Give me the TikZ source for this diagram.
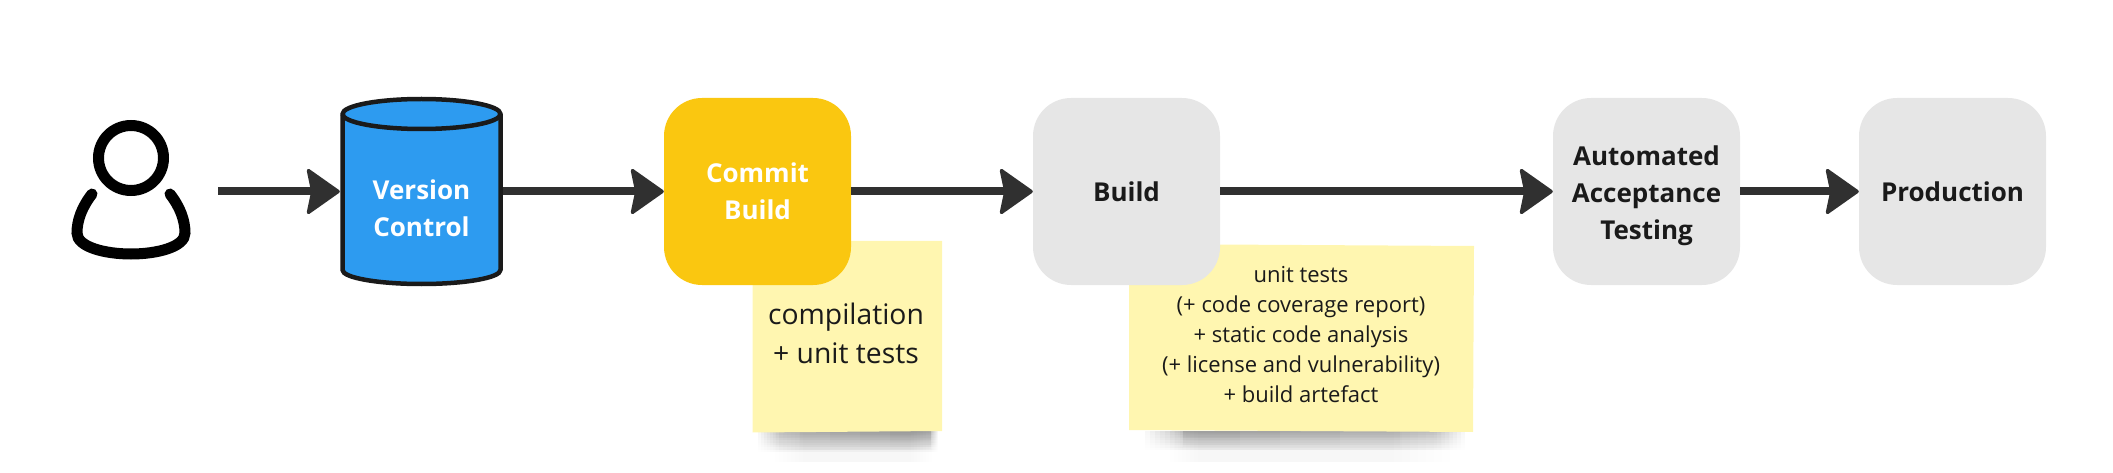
\documentclass[tikz,border=0pt]{standalone}
\usepackage{fontspec}
\setmainfont{Open Sans}
\usetikzlibrary{arrows.meta,fadings}
\definecolor{inkdark}{HTML}{303030}
\definecolor{boxgrey}{HTML}{E6E6E6}
\definecolor{boxyellow}{HTML}{FAC710}
\definecolor{vcblue}{HTML}{2D9BF0}
\definecolor{notefill}{HTML}{FFF6B0}
\definecolor{txtdark}{HTML}{1A1A1A}
\newcommand{\fsz}[2]{\fontsize{#1pt}{#2pt}\selectfont}
\newcommand{\softshadow}[5]{% xl xr ytop height opacity
  \fill[black,opacity=#5,path fading=south] (#1,#3) rectangle (#2,{#3+#4});
}
\tikzset{
  stage/.style={rectangle,rounded corners=38pt,minimum width=187pt,minimum height=187pt,inner sep=0pt,align=center,font=\fsz{26}{37}\bfseries,text=txtdark},
  flow/.style={draw=inkdark,line width=8pt,-{Stealth[length=35pt,width=49pt,inset=5pt,line width=3.5pt,round]}},
  notetext/.style={align=center,text=txtdark,inner sep=0pt},
  figure/.style={draw=black,line width=11pt,line cap=round,fill=none}
}
\begin{document}
\begin{tikzpicture}[x=1pt,y=-1pt]
\useasboundingbox (0,0) rectangle (2113,473);
% person
\draw[figure] (131,158) circle (32.5pt);
\draw[figure] (92,194) .. controls (82,207) and (77,220) .. (77,233)
  .. controls (77,247) and (105,254) .. (131,254)
  .. controls (157,254) and (185,247) .. (185,233)
  .. controls (185,220) and (180,207) .. (170,194);
\node[minimum width=120pt,minimum height=170pt,inner sep=0pt] (user) at (131,176) {};
\coordinate (userout) at (218,191.5);
% cylinder
\fill[vcblue,draw=txtdark,line width=4.5pt,line join=round]
  (342.5,114) -- (342.5,270) arc[x radius=79,y radius=14,start angle=180,end angle=0]
  -- (500.5,114) arc[x radius=79,y radius=15,start angle=0,end angle=-180] -- cycle;
\draw[txtdark,line width=4.5pt] (342.5,114) arc[x radius=79,y radius=15,start angle=180,end angle=0];
\node[minimum width=163pt,minimum height=155pt,inner sep=0pt,align=center,font=\fsz{26}{37}\bfseries,text=white] (vc) at (421.5,208) {Version\\Control};
% note shadows
\foreach \j in {0,...,7}{
  \softshadow{\j*3+758}{938-\j*1}{431}{22}{0.035}
  \softshadow{\j*4+775}{932-\j*3}{431}{36}{0.012}
}
\foreach \b in {800,830,860,890}{\softshadow{\b}{931}{431}{18}{0.035}}
\foreach \j in {0,...,7}{
  \softshadow{\j*5+1145}{1465-\j*4}{431}{20}{0.03}
  \softshadow{\j*4+1170}{1450-\j*8}{431}{36}{0.01}
}
\foreach \b in {1400,1340,1280,1240}{\softshadow{1183}{\b}{431}{16}{0.03}}
% notes
\fill[notefill] (752.5,241) -- (942,241) -- (942,431) -- (752.5,432.5) -- cycle;
\fill[notefill] (1129,244) -- (1474,246) -- (1473,432) -- (1129,430) -- cycle;
\node[notetext,font=\fsz{28.3}{39}] (notea) at (846,333.5) {compilation\\+ unit tests};
\node[notetext,font=\fsz{22}{30}] (noteb) at (1301,335) {unit tests\\(+ code coverage report)\\+ static code analysis\\(+ license and vulnerability)\\+ build artefact};
% stages
\node[stage,fill=boxyellow,text=white] (commit) at (757.5,191.5) {Commit\\Build};
\node[stage,fill=boxgrey] (build) at (1126.5,191.5) {Build};
\node[stage,fill=boxgrey] (accept) at (1646.5,191.5) {\rule{0pt}{27.6pt}Automated\\Acceptance\\Testing};
\node[stage,fill=boxgrey] (prod) at (1952.5,191.5) {Production};
% connectors
\draw[flow] (userout) -- (vc.west |- userout);
\draw[flow] (vc.east |- userout) -- (commit.west |- userout);
\draw[flow] (commit.east |- userout) -- (build.west |- userout);
\draw[flow] (build.east |- userout) -- (accept.west |- userout);
\draw[flow] (accept.east |- userout) -- (prod.west |- userout);
\end{tikzpicture}
\end{document}
